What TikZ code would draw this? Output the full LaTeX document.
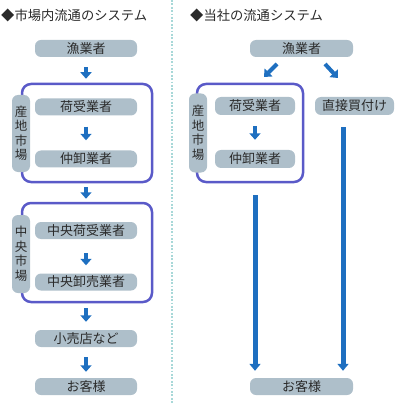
\documentclass[tikz,border=0pt]{standalone}
\usepackage{fontspec}
\setmainfont{Noto Sans CJK JP}
\usetikzlibrary{arrows.meta}
\definecolor{boxfill}{HTML}{AEBFCA}
\definecolor{framecol}{HTML}{5A5AC8}
\definecolor{arrowcol}{HTML}{1E6FC0}
\definecolor{sepcol}{HTML}{A8D8D8}
\definecolor{txtcol}{HTML}{2A2A2A}
\tikzset{
  stagebox/.style={fill=boxfill, rounded corners=6pt, minimum height=17pt, inner sep=0pt,
    text=txtcol, font=\fontsize{13pt}{15pt}\selectfont},
  sidebox/.style={fill=boxfill, rounded corners=6pt, minimum width=18pt, inner sep=0pt,
    text=txtcol, align=center, font=\fontsize{12.5pt}{14.5pt}\selectfont},
  marketframe/.style={draw=framecol, line width=2.5pt, rounded corners=9pt, inner sep=0pt},
  flowarrow/.style={draw=arrowcol, line width=4pt, -{Triangle[width=11pt,length=6.5pt]}},
  longarrow/.style={draw=arrowcol, line width=5pt, -{Triangle[width=11pt,length=7pt]}},
  titletext/.style={text=txtcol, font=\fontsize{13.3pt}{15pt}\selectfont, anchor=west, inner sep=0pt},
}
\begin{document}
\begin{tikzpicture}[x=1pt,y=-1pt]
\useasboundingbox (0,0) rectangle (400,403);
% separator
\draw[sepcol, line width=1.8pt, dash pattern=on 1.8pt off 1.6pt] (172,0) -- (172,403);
% titles
\node[titletext] (t1) at (1,15) {◆市場内流通のシステム};
\node[titletext] (t2) at (190,15) {◆当社の流通システム};
% ---- left column ----
\node[marketframe, minimum width=130pt, minimum height=98pt] (f1) at (87,133) {};
\node[marketframe, minimum width=130pt, minimum height=99pt] (f2) at (87,252.5) {};
\node[sidebox, minimum height=77pt] (s1) at (21,133.5) {産\\地\\市\\場};
\node[sidebox, minimum height=78pt] (s2) at (21,254) {中\\央\\市\\場};
\node[stagebox, minimum width=102pt] (g1) at (86,48.5) {漁業者};
\node[stagebox, minimum width=102pt] (n1) at (86,107) {荷受業者};
\node[stagebox, minimum width=102pt] (m1) at (86,159) {仲卸業者};
\node[stagebox, minimum width=102pt] (c1) at (86,230.5) {中央荷受業者};
\node[stagebox, minimum width=102pt] (c2) at (86,282) {中央卸売業者};
\node[stagebox, minimum width=102pt] (r1) at (86,338.5) {小売店など};
\node[stagebox, minimum width=102pt] (k1) at (86,386.5) {お客様};
\draw[flowarrow, shorten <=10pt, shorten >=4pt] (g1.south) -- (g1.south |- f1.north);
\draw[flowarrow, shorten <=11pt, shorten >=10pt] (n1.south) -- (m1.north);
\draw[flowarrow, shorten <=4pt, shorten >=3pt] (f1.south -| g1.south) -- (f2.north -| g1.south);
\draw[flowarrow, shorten <=14pt, shorten >=8pt] (c1.south) -- (c2.north);
\draw[flowarrow, shorten <=5pt, shorten >=8pt] (f2.south -| r1.north) -- (r1.north);
\draw[flowarrow, shorten <=10pt, shorten >=6pt] (r1.south) -- (k1.north);
% ---- right column ----
\node[marketframe, minimum width=106pt, minimum height=98pt] (f3) at (250,133) {};
\node[sidebox, minimum height=79pt] (s3) at (198,133) {産\\地\\市\\場};
\node[stagebox, minimum width=103pt] (g2) at (301.5,48.5) {漁業者};
\node[stagebox, minimum width=80pt, minimum height=18pt] (n2) at (255,106) {荷受業者};
\node[stagebox, minimum width=80pt, minimum height=18pt] (m2) at (255,159) {仲卸業者};
\node[stagebox, minimum width=79pt, minimum height=18pt] (d2) at (354.5,106) {直接買付け};
\node[stagebox, minimum width=103pt] (k2) at (301.5,386.5) {お客様};
\coordinate (la) at (277,64);
\coordinate (lb) at (264,77);
\coordinate (ra) at (325,64);
\coordinate (rb) at (338,78);
\draw[flowarrow] (la) -- (lb);
\draw[flowarrow] (ra) -- (rb);
\draw[flowarrow, shorten <=11pt, shorten >=10pt] (n2.south) -- (m2.north);
\draw[longarrow, shorten <=12pt, shorten >=7pt] (f3.south -| m2.south) -- (k2.north -| m2.south);
\draw[longarrow, shorten <=12pt, shorten >=7pt] ([xshift=-11.5pt]d2.south) -- ([xshift=-11.5pt]d2.south |- k2.north);
\end{tikzpicture}
\end{document}
